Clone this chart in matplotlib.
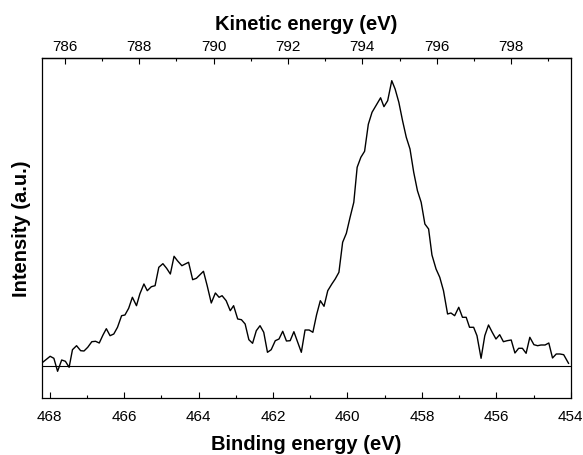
import numpy as np
import matplotlib
matplotlib.use("Agg")
import matplotlib.pyplot as plt
from matplotlib.ticker import MultipleLocator, FixedLocator

plt.rcParams['font.family'] = ['Liberation Sans', 'DejaVu Sans']

# photon energy used to convert binding -> kinetic energy
HV = 1253.6

# spectrum (binding energy in eV, intensity in a.u.)
binding = [
    468.19, 467.99, 467.89, 467.79, 467.68, 467.58, 467.48, 467.39, 467.28, 467.17,
    467.08, 466.98, 466.87, 466.77, 466.67, 466.57, 466.48, 466.38, 466.28, 466.18,
    466.07, 465.98, 465.88, 465.78, 465.67, 465.58, 465.47, 465.38, 465.27, 465.17,
    465.07, 464.96, 464.86, 464.76, 464.66, 464.57, 464.45, 464.27, 464.16, 464.06,
    463.87, 463.77, 463.66, 463.55, 463.45, 463.37, 463.26, 463.15, 463.06, 462.95,
    462.85, 462.75, 462.65, 462.55, 462.45, 462.35, 462.25, 462.15, 462.05, 461.94,
    461.84, 461.74, 461.64, 461.54, 461.44, 461.33, 461.24, 461.14, 461.03, 460.93,
    460.83, 460.73, 460.63, 460.53, 460.42, 460.33, 460.23, 460.13, 460.03, 459.93,
    459.83, 459.74, 459.64, 459.54, 459.44, 459.34, 459.23, 459.11, 459.02, 458.92,
    458.81, 458.72, 458.62, 458.52, 458.42, 458.32, 458.22, 458.12, 458.02, 457.92,
    457.82, 457.73, 457.62, 457.52, 457.42, 457.31, 457.22, 457.12, 457.01, 456.91,
    456.81, 456.72, 456.61, 456.52, 456.41, 456.31, 456.21, 456.11, 456.01, 455.91,
    455.81, 455.71, 455.60, 455.50, 455.40, 455.30, 455.20, 455.10, 454.99, 454.89,
    454.80, 454.69, 454.59, 454.49, 454.39, 454.29, 454.19, 454.06,
]
intensity = [
    4.0, 10.0, 8.0, -5.0, 6.3, 5.0, -1.0, 16.6, 20.6, 15.6,
    15.3, 19.0, 24.6, 25.0, 23.3, 31.3, 37.6, 30.6, 32.3, 39.0,
    50.6, 51.3, 58.0, 69.0, 60.6, 72.3, 82.3, 75.6, 79.6, 80.6,
    99.0, 102.6, 98.0, 92.3, 110.0, 105.6, 100.6, 104.0, 86.6, 88.0,
    95.0, 80.6, 63.3, 73.3, 69.0, 70.6, 65.6, 55.6, 60.6, 47.3,
    46.6, 42.3, 26.6, 23.0, 35.6, 40.6, 34.0, 14.0, 16.6, 25.6,
    27.3, 35.0, 25.3, 25.6, 34.6, 23.3, 14.0, 36.3, 36.3, 34.0,
    51.6, 65.6, 60.0, 75.6, 82.3, 87.3, 94.0, 124.0, 133.0, 149.0,
    164.0, 199.0, 209.0, 215.0, 242.0, 254.0, 261.0, 268.5, 259.6, 265.6,
    285.6, 277.3, 264.0, 245.6, 229.0, 217.3, 194.0, 175.6, 164.0, 142.3,
    137.3, 111.3, 97.3, 89.0, 75.6, 52.3, 53.3, 50.6, 59.0, 49.0,
    49.0, 39.0, 39.0, 30.6, 8.0, 30.6, 41.3, 34.0, 27.3, 31.6,
    24.6, 25.6, 26.3, 13.3, 18.0, 18.0, 13.0, 29.0, 21.6, 20.6,
    21.3, 21.3, 23.3, 8.3, 12.3, 12.3, 11.6, 3.0,
]

be_ticks = [468, 466, 464, 462, 460, 458, 456, 454]
ke_ticks = [786, 788, 790, 792, 794, 796, 798]
ke_minor = [786, 787, 788, 789, 790, 791, 792, 793, 794, 795, 796, 797, 798, 799]

xmin, xmax = 468.2, 454.0

fig = plt.figure(figsize=(5.83, 4.56), dpi=100)
ax = fig.add_axes([0.0726, 0.125, 0.9064, 0.745])

ax.plot(binding, intensity, color='black', lw=1.0)
ax.axhline(0, color='black', lw=0.8)

ax.set_xlim(xmin, xmax)
ax.set_ylim(-31.7, 308)
ax.set_yticks([])

ax.xaxis.set_major_locator(FixedLocator(be_ticks))
ax.xaxis.set_minor_locator(MultipleLocator(1))
ax.tick_params(axis='x', which='both', direction='in', labelsize=11, pad=8)
ax.tick_params(axis='x', which='major', length=4, width=0.8)
ax.tick_params(axis='x', which='minor', length=2.5, width=0.8)

for s in ax.spines.values():
    s.set_linewidth(0.9)

ax.set_xlabel("Binding energy (eV)", fontsize=14.5, fontweight='bold', labelpad=8)
ax.set_ylabel("Intensity (a.u.)", fontsize=14.5, fontweight='bold', labelpad=8)

top = ax.secondary_xaxis('top', functions=(lambda b: HV - b, lambda k: HV - k))
top.xaxis.set_major_locator(FixedLocator(ke_ticks))
top.xaxis.set_minor_locator(FixedLocator(ke_minor))
top.tick_params(axis='x', which='both', direction='in', labelsize=11, pad=4)
top.tick_params(axis='x', which='major', length=4, width=0.8)
top.tick_params(axis='x', which='minor', length=2.5, width=0.8)
top.spines['top'].set_linewidth(0.9)
top.set_xlabel("Kinetic energy (eV)", fontsize=14.5, fontweight='bold', labelpad=7)

fig.savefig("out.png", dpi=100)
